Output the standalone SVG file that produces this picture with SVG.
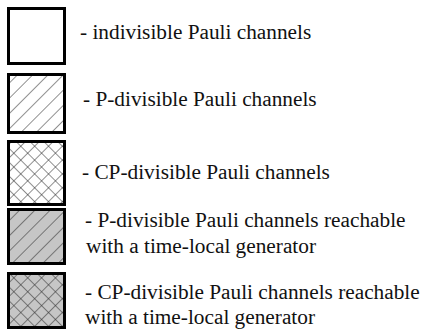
<svg xmlns="http://www.w3.org/2000/svg" width="430" height="329" viewBox="0 0 430 329">
<style>
.box{stroke:#000;stroke-width:3}
.t{font-family:"Liberation Serif","Times New Roman",serif;font-size:21.3px;fill:#111}
</style>
<defs>
<pattern id="hatch" patternUnits="userSpaceOnUse" width="10.8" height="10.8" patternTransform="rotate(45)">
<rect width="10.8" height="10.8" fill="#fff"/>
<line x1="0" y1="0" x2="0" y2="10.8" stroke="#222" stroke-width="1"/>
</pattern>
<pattern id="cross" patternUnits="userSpaceOnUse" width="9.8" height="9.8" patternTransform="rotate(45)">
<rect width="9.8" height="9.8" fill="#fff"/>
<line x1="0" y1="0" x2="0" y2="9.8" stroke="#222" stroke-width="1"/>
<line x1="0" y1="0" x2="9.8" y2="0" stroke="#222" stroke-width="1"/>
</pattern>
<pattern id="ghatch" patternUnits="userSpaceOnUse" width="10.8" height="10.8" patternTransform="rotate(45)">
<rect width="10.8" height="10.8" fill="#c6c6c6"/>
<line x1="0" y1="0" x2="0" y2="10.8" stroke="#333" stroke-width="1.1"/>
</pattern>
<pattern id="gcross" patternUnits="userSpaceOnUse" width="9.8" height="9.8" patternTransform="rotate(45)">
<rect width="9.8" height="9.8" fill="#c6c6c6"/>
<line x1="0" y1="0" x2="0" y2="9.8" stroke="#333" stroke-width="1.1"/>
<line x1="0" y1="0" x2="9.8" y2="0" stroke="#333" stroke-width="1.1"/>
</pattern>
</defs>
<rect width="430" height="329" fill="#fff"/>
<g id="item1">
<rect class="box" x="8.5" y="8.5" width="56" height="55" fill="#fff"/>
<text class="t" x="80" y="39">- indivisible Pauli channels</text>
</g>
<g id="item2">
<rect class="box" x="8.5" y="74.5" width="56" height="58" fill="url(#hatch)"/>
<text class="t" x="83" y="106">- P-divisible Pauli channels</text>
</g>
<g id="item3">
<rect class="box" x="8.5" y="141.5" width="56" height="63" fill="url(#cross)"/>
<text class="t" x="82" y="179">- CP-divisible Pauli channels</text>
</g>
<g id="item4">
<rect class="box" x="8.5" y="209.5" width="56" height="54" fill="url(#ghatch)"/>
<text class="t" x="85" y="227">- P-divisible Pauli channels reachable</text>
<text class="t" x="86" y="253">with a time-local generator</text>
</g>
<g id="item5">
<rect class="box" x="8.5" y="273.5" width="56" height="54" fill="url(#gcross)"/>
<text class="t" x="85" y="299">- CP-divisible Pauli channels reachable</text>
<text class="t" x="85" y="324">with a time-local generator</text>
</g>
<g id="connectors"/>
</svg>
